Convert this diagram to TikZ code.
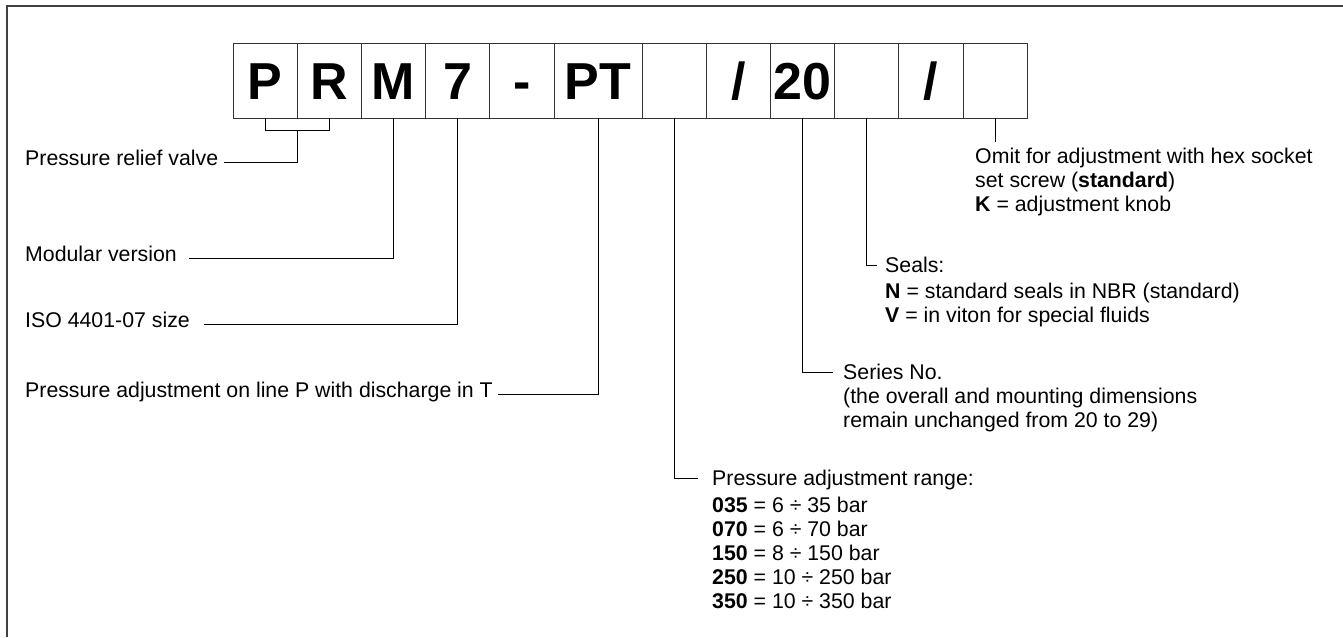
\documentclass[tikz,border=0pt]{standalone}
\usepackage{fontspec}
\setmainfont{Liberation Sans}
\usepackage{tikz}
\usetikzlibrary{positioning}
\tikzset{
  codebox/.style={rectangle, draw=black!80, line width=1pt, minimum width=64.2pt, minimum height=75pt, inner sep=0pt, outer sep=0pt, text centered, font=\fontsize{52}{52}\selectfont\bfseries, text height=37pt, text depth=0pt},
  lefttext/.style={anchor=base west, inner sep=0pt, font=\fontsize{21.3}{24}\selectfont},
  righttext/.style={anchor=base west, inner sep=0pt, font=\fontsize{21.3}{24}\selectfont},
  leader/.style={draw=black, line width=1pt},
  frameline/.style={draw=black!75, line width=1.6pt},
}

\begin{document}
\begin{tikzpicture}[x=1pt, y=-1pt, node distance=0pt]
\useasboundingbox (0,0) rectangle (1343,637);
\draw[frameline] (7,637) -- (7,6) -- (1343,6);

\node[codebox] (p) at (265.1,80.5) {P};
\node[codebox, right=of p] (r) {R};
\node[codebox, right=of r] (m) {M};
\node[codebox, right=of m] (size) {7};
\node[codebox, right=of size] (dash) {-};
\node[codebox, right=of dash, minimum width=88pt] (pt) {PT};
\node[codebox, right=of pt] (range) {};
\node[codebox, right=of range] (slash1) {/};
\node[codebox, right=of slash1] (series) {20};
\node[codebox, right=of series] (seals) {};
\node[codebox, right=of seals] (slash2) {/};
\node[codebox, right=of slash2] (knob) {};

\node[lefttext] (relief) at (25,165) {Pressure relief valve};
\node[lefttext] (modular) at (25,261) {Modular version};
\node[lefttext] (iso) at (25,327) {ISO 4401-07 size};
\node[lefttext] (padj) at (25,397) {Pressure adjustment on line P with discharge in T};

\node[righttext] (omit) at (975,163) {\begin{tabular}[t]{@{}l@{}}Omit for adjustment with hex socket\\ set screw (\textbf{standard})\\ \textbf{K} = adjustment knob\end{tabular}};
\node[righttext] (sealtxt) at (885,272) {\begin{tabular}[t]{@{}l@{}}Seals:\\[2pt] \textbf{N} = standard seals in NBR (standard)\\ \textbf{V} = in viton for special fluids\end{tabular}};
\node[righttext] (seriestxt) at (843,379) {\begin{tabular}[t]{@{}l@{}}Series No.\\ (the overall and mounting dimensions\\ remain unchanged from 20 to 29)\end{tabular}};
\node[righttext] (rangetxt) at (712,485) {\begin{tabular}[t]{@{}l@{}}Pressure adjustment range:\\[3pt] \textbf{035} = 6 ÷ 35 bar\\ \textbf{070} = 6 ÷ 70 bar\\ \textbf{150} = 8 ÷ 150 bar\\ \textbf{250} = 10 ÷ 250 bar\\ \textbf{350} = 10 ÷ 350 bar\end{tabular}};

\draw[leader] (p.south) -- ++(0,12) coordinate (brk) -| (r.south);
\draw[leader] (p.east |- brk) |- ([xshift=6pt,yshift=3pt]relief.base east);
\draw[leader] (m.south) |- ([xshift=12pt,yshift=3pt]modular.base east);
\draw[leader] (size.south) |- ([xshift=14pt,yshift=3pt]iso.base east);
\draw[leader] (pt.south) |- ([xshift=5pt,yshift=3pt]padj.base east);
\draw[leader] (range.south) |- ([xshift=-14pt,yshift=7pt]rangetxt.base west);
\draw[leader] (series.south) |- ([xshift=-10pt,yshift=7pt]seriestxt.base west);
\draw[leader] (seals.south) |- ([xshift=-8pt,yshift=7pt]sealtxt.base west);
\draw[leader] (knob.south) -- ++(0,24);
\end{tikzpicture}
\end{document}
